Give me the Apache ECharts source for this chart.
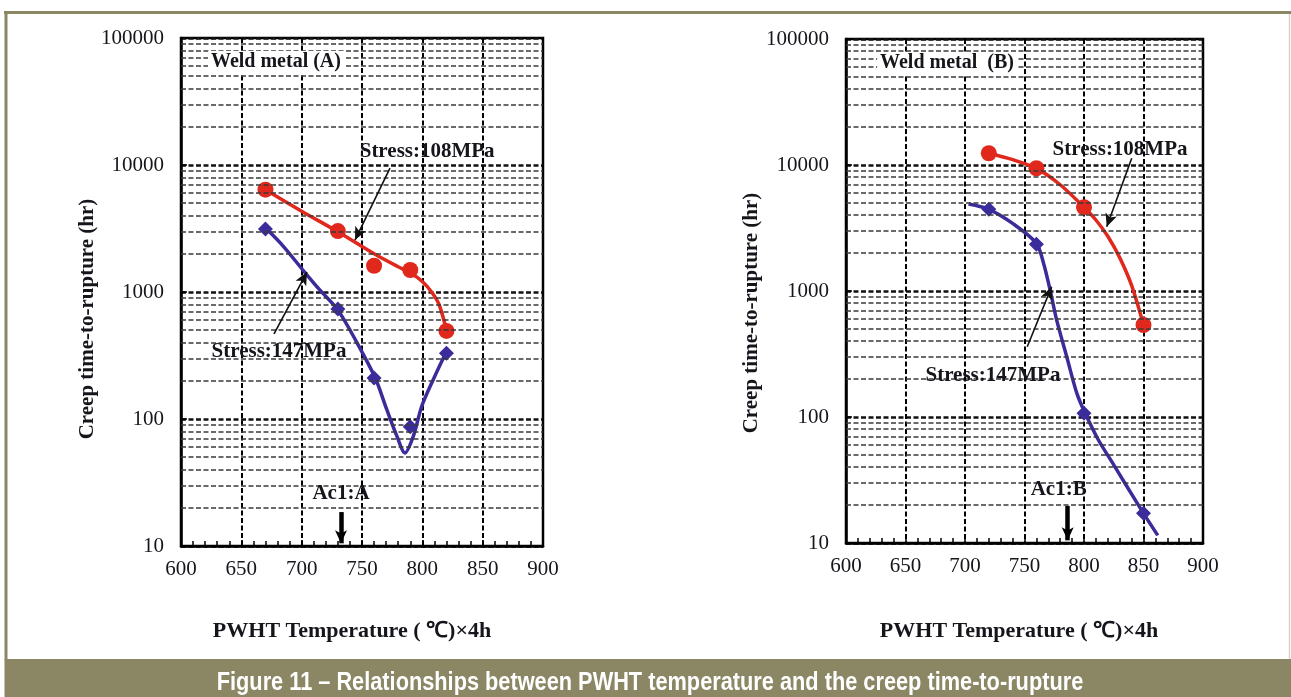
<!DOCTYPE html>
<html>
<head>
<meta charset="utf-8">
<title>PWHT temperature vs creep time-to-rupture</title>
<script src="https://cdn.jsdelivr.net/npm/echarts@6/dist/echarts.min.js"></script>
<style>
  html, body { margin: 0; padding: 0; background: #fff; }
  #main { width: 1291px; height: 697px; }
</style>
</head>
<body>
<div id="main"></div>
<script>
// ---- axis ranges / ticks ----
const tempTicks = [600, 650, 700, 750, 800, 850, 900];
const ruptureTicks = [10, 100, 1000, 10000, 100000];
const minorFactors = [2, 3, 4, 5, 6, 7, 8, 9];

// ---- Weld metal (A): measured points ----
const tempA = [670, 730, 760, 790, 820];
const rupture108A = [6390, 3020, 1610, 1490, 494];
const rupture147A = [3140, 736, 210, 87, 330];
// fitted trend lines (A)
const fitTemp108A = [670, 700, 730, 760, 780, 790, 800, 808, 814, 820];
const fit108A = [6380, 4330, 2980, 2000, 1580, 1420, 1210, 990, 790, 500];
const fitTemp147A = [670, 685, 701, 715, 730, 746, 761, 770.5, 779, 785.6, 792.5, 799.5, 809, 820];
const fit147A = [3200, 2280, 1490, 1038, 722, 396, 210, 119, 73, 54, 73, 126, 204, 340];

// ---- Weld metal (B): measured points ----
const tempB = [720, 760, 800, 850];
const rupture108B = [12400, 9420, 4620, 537];
const rupture147B = [4450, 2350, 107, 17.2];
// fitted trend lines (B)
const fitTemp108B = [720, 740, 760, 780, 800, 810, 820, 830, 840, 850];
const fit108B = [12400, 11040, 9400, 6970, 4620, 3660, 2720, 1840, 1107, 537];
const fitTemp147B = [703, 720, 740, 760, 766, 771.5, 777, 785.5, 794, 801, 812, 825, 837, 850, 862];
const fit147B = [4900, 4450, 3440, 2390, 1660, 1020, 590, 301, 154, 107, 66, 41.7, 27.2, 17.2, 11.5];

// ---- Ac1 transformation temperatures ----
const ac1A = 732.6;
const ac1B = 786.3;

// ---- styling ----
const SERIF = '"Liberation Serif", "Times New Roman", serif';
const RED = '#e0281c';
const BLUE = '#3b2c9c';
const INK = '#15151c';
const FRAME = '#8b8664';

const pairs = (xs, ys) => xs.map((x, i) => [x, ys[i]]);
const minorLevels = ruptureTicks.slice(0, -1)
  .flatMap(d => minorFactors.map(f => d * f));

function gridCfg(left, top, width, height) {
  return { left, top, width, height, show: true, borderColor: '#000', borderWidth: 2.5, containLabel: false };
}

function xAxisCfg(gi) {
  return {
    type: 'value', gridIndex: gi,
    min: tempTicks[0], max: tempTicks[tempTicks.length - 1], interval: 50,
    axisLine: { show: true, lineStyle: { color: '#000', width: 2.5 } },
    axisTick: { show: true, inside: true, length: 6, lineStyle: { color: '#000', width: 1.5 } },
    minorTick: { show: true, splitNumber: 5, length: 5, lineStyle: { color: '#000', width: 1.5 } },
    splitLine: { show: true, lineStyle: { color: '#000', width: 2, type: [5, 2.5] } },
    axisLabel: { fontFamily: SERIF, fontSize: 21, color: INK, margin: 13 }
  };
}

function yAxisCfg(gi) {
  return {
    type: 'log', logBase: 10, gridIndex: gi,
    min: ruptureTicks[0], max: ruptureTicks[ruptureTicks.length - 1],
    axisLine: { show: true, lineStyle: { color: '#000', width: 2.5 } },
    axisTick: { show: true, inside: true, length: 6, lineStyle: { color: '#000', width: 1.5 } },
    splitLine: { show: true, lineStyle: { color: '#111', width: 2.5, type: [5, 2.5] } },
    axisLabel: {
      fontFamily: SERIF, fontSize: 21, color: INK, margin: 17,
      formatter: v => String(Math.round(v))
    }
  };
}

function minorGrid(gi) {
  return {
    type: 'line', xAxisIndex: gi, yAxisIndex: gi, data: [], z: 1, silent: true,
    markLine: {
      silent: true, symbol: ['none', 'none'], label: { show: false },
      lineStyle: { color: '#3a3a3a', width: 1.6, type: [5, 2.5] },
      animation: false,
      data: minorLevels.map(v => ({ yAxis: v }))
    }
  };
}

function curve(gi, xs, ys, color) {
  return {
    type: 'line', xAxisIndex: gi, yAxisIndex: gi, z: 3,
    data: pairs(xs, ys), smooth: 0.3, showSymbol: false, symbol: 'none',
    lineStyle: { color, width: 3.5 }
  };
}

function points(gi, xs, ys, color, symbol, size) {
  return {
    type: 'scatter', xAxisIndex: gi, yAxisIndex: gi, z: 4,
    data: pairs(xs, ys), symbol, symbolSize: size,
    itemStyle: { color, opacity: 1 }
  };
}

const noteLabel = { show: true, position: 'inside', formatter: '{b}',
  fontFamily: SERIF, fontSize: 21, fontWeight: 'bold', color: INK };

function notes(gi, items, arrows) {
  return {
    type: 'scatter', xAxisIndex: gi, yAxisIndex: gi, z: 5, silent: true,
    symbolSize: 0, itemStyle: { opacity: 1, color: INK }, label: noteLabel,
    data: items,
    markLine: {
      silent: true, animation: false, label: { show: false },
      symbol: ['none', 'arrow'], symbolSize: [9, 13],
      lineStyle: { color: '#111', width: 1.6, type: 'solid', opacity: 1 },
      data: arrows
    }
  };
}

const boxLabel = { backgroundColor: '#fff', padding: [1, 3], fontSize: 20 };
const ac1Line = { lineStyle: { width: 4.5, color: '#000' }, symbolSize: [16, 13] };

const option = {
  animation: false,
  backgroundColor: '#fff',
  grid: [gridCfg(181, 38, 362, 508), gridCfg(846, 39, 357, 504)],
  xAxis: [xAxisCfg(0), xAxisCfg(1)],
  yAxis: [yAxisCfg(0), yAxisCfg(1)],
  series: [
    minorGrid(0), minorGrid(1),
    curve(0, fitTemp108A, fit108A, RED),
    curve(0, fitTemp147A, fit147A, BLUE),
    points(0, tempA, rupture108A, RED, 'circle', 16),
    points(0, tempA, rupture147A, BLUE, 'diamond', 15),
    curve(1, fitTemp108B, fit108B, RED),
    curve(1, fitTemp147B, fit147B, BLUE),
    points(1, tempB, rupture108B, RED, 'circle', 16),
    points(1, tempB, rupture147B, BLUE, 'diamond', 15),
    notes(0, [
      { name: 'Weld metal (A)', value: [678.7, 64700], label: boxLabel },
      { name: 'Stress:108MPa', value: [804, 12650] },
      { name: 'Stress:147MPa', value: [681.2, 337] },
      { name: 'Ac1:A', value: [ac1A, 26.1] }
    ], [
      [{ coord: [773.2, 9460] }, { coord: [744.2, 2565] }],
      [{ coord: [677.1, 467] }, { coord: [704.4, 1436] }],
      [Object.assign({ coord: [ac1A, 18.5] }, ac1Line), { coord: [ac1A, 10.5] }]
    ]),
    notes(1, [
      { name: 'Weld metal  (B)', value: [684.9, 64600], label: boxLabel },
      { name: 'Stress:108MPa', value: [830.3, 13150] },
      { name: 'Stress:147MPa', value: [723.5, 215] },
      { name: 'Ac1:B', value: [778.7, 26.4] }
    ], [
      [{ coord: [840.1, 11300] }, { coord: [819.1, 3237] }],
      [{ coord: [752.3, 361] }, { coord: [772.8, 1081] }],
      [Object.assign({ coord: [ac1B, 19.7] }, ac1Line), { coord: [ac1B, 10.5] }]
    ])
  ],
  graphic: [
    // page frame
    { type: 'line', silent: true, shape: { x1: 4, y1: 12.5, x2: 1291, y2: 12.5 }, style: { stroke: FRAME, lineWidth: 3 } },
    { type: 'line', silent: true, shape: { x1: 6, y1: 11, x2: 6, y2: 660 }, style: { stroke: FRAME, lineWidth: 3 } },
    { type: 'line', silent: true, shape: { x1: 1289.5, y1: 14, x2: 1289.5, y2: 660 }, style: { stroke: '#d6d4c8', lineWidth: 1.5 } },
    { type: 'rect', silent: true, shape: { x: 4.5, y: 659, width: 1287, height: 38 }, style: { fill: FRAME } },
    { type: 'text', silent: true, x: 650, y: 683, scaleX: 0.87,
      style: { text: 'Figure 11 \u2013 Relationships between PWHT temperature and the creep time-to-rupture',
        align: 'center', verticalAlign: 'middle', fill: '#fff',
        font: 'bold 25px "Liberation Sans Narrow", "Arial Narrow", "Liberation Sans", sans-serif' } },
    // axis titles
    { type: 'text', silent: true, x: 352, y: 631,
      style: { text: 'PWHT Temperature ( \u2103)\u00d74h', align: 'center', verticalAlign: 'middle',
        fill: INK, font: 'bold 22px ' + SERIF } },
    { type: 'text', silent: true, x: 1019, y: 631,
      style: { text: 'PWHT Temperature ( \u2103)\u00d74h', align: 'center', verticalAlign: 'middle',
        fill: INK, font: 'bold 22px ' + SERIF } },
    { type: 'text', silent: true, x: 88, y: 319, rotation: Math.PI / 2,
      style: { text: 'Creep time-to-rupture (hr)', align: 'center', verticalAlign: 'middle',
        fill: INK, font: 'bold 21px ' + SERIF } },
    { type: 'text', silent: true, x: 752, y: 313, rotation: Math.PI / 2,
      style: { text: 'Creep time-to-rupture (hr)', align: 'center', verticalAlign: 'middle',
        fill: INK, font: 'bold 21px ' + SERIF } }
  ]
};

const chart = echarts.init(document.getElementById('main'), null, { renderer: 'canvas' });
chart.setOption(option);
</script>
</body>
</html>
